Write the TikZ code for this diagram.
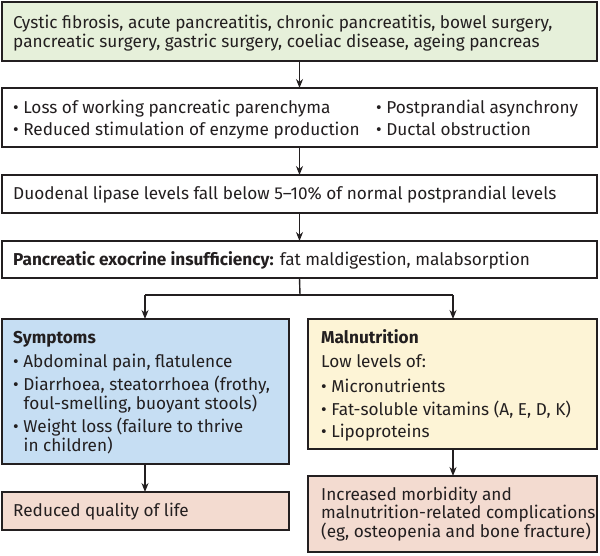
\documentclass[tikz,border=0pt]{standalone}
\usepackage{fontspec}
\setmainfont{Fira Sans}
\usetikzlibrary{arrows.meta}
\definecolor{bordc}{HTML}{231F20}
\definecolor{greenf}{HTML}{E6F0DA}
\definecolor{bluef}{HTML}{C6DEF3}
\definecolor{yellowf}{HTML}{FDF4D6}
\definecolor{pinkf}{HTML}{F3DBD0}
\tikzset{
  x=1pt,y=-1pt,
  boxstyle/.style={draw=bordc,line width=2pt,inner sep=0pt,anchor=north west,outer sep=0pt},
  txt/.style={anchor=base west,inner sep=0pt,font=\fontsize{17.2}{20}\selectfont,text=bordc},
  conn/.style={draw=bordc,line width=1.4pt,-{Stealth[length=9pt,width=7pt]}},
  plain/.style={draw=bordc,line width=1.4pt}
}
\begin{document}
\begin{tikzpicture}
\useasboundingbox (0,0) rectangle (600,555);
% boxes
\node[boxstyle,fill=greenf,minimum width=595pt,minimum height=59pt] (b1) at (2,2) {};
\node[boxstyle,fill=white,minimum width=595pt,minimum height=59pt] (b2) at (2,88) {};
\node[boxstyle,fill=white,minimum width=595pt,minimum height=38pt] (b3) at (2,175) {};
\node[boxstyle,fill=white,minimum width=595pt,minimum height=37pt] (b4) at (2,241) {};
\node[boxstyle,fill=bluef,minimum width=287pt,minimum height=145pt] (b5) at (2,319) {};
\node[boxstyle,fill=yellowf,minimum width=289pt,minimum height=130pt] (b6) at (308,319) {};
\node[boxstyle,fill=pinkf,minimum width=287pt,minimum height=38pt] (b7) at (2,492) {};
\node[boxstyle,fill=pinkf,minimum width=289pt,minimum height=76pt] (b8) at (308,476) {};
% texts
\node[txt] (t1a) at (13,28) {Cystic fibrosis, acute pancreatitis, chronic pancreatitis, bowel surgery,};
\node[txt] (t1b) at (13,47) {pancreatic surgery, gastric surgery, coeliac disease, ageing pancreas};
\node[txt] (t2a) at (13,113) {\textbullet\ Loss of working pancreatic parenchyma};
\node[txt] (t2b) at (13,135) {\textbullet\ Reduced stimulation of enzyme production};
\node[txt] (t2c) at (376,113) {\textbullet\ Postprandial asynchrony};
\node[txt] (t2d) at (376,135) {\textbullet\ Ductal obstruction};
\node[txt] (t3) at (13,199) {Duodenal lipase levels fall below 5--10\% of normal postprandial levels};
\node[txt] (t4) at (13,265) {\textbf{Pancreatic exocrine insufficiency:} fat maldigestion, malabsorption};
\node[txt] (t5a) at (13,343) {\textbf{Symptoms}};
\node[txt] (t5b) at (13,367) {\textbullet\ Abdominal pain, flatulence};
\node[txt] (t5c) at (13,390) {\textbullet\ Diarrhoea, steatorrhoea (frothy,};
\node[txt] (t5d) at (23.5,409) {foul-smelling, buoyant stools)};
\node[txt] (t5e) at (13,432) {\textbullet\ Weight loss (failure to thrive};
\node[txt] (t5f) at (23.5,451) {in children)};
\node[txt] (t6a) at (321,343) {\textbf{Malnutrition}};
\node[txt] (t6b) at (321,367) {Low levels of:};
\node[txt] (t6c) at (321,392) {\textbullet\ Micronutrients};
\node[txt] (t6d) at (321,415) {\textbullet\ Fat-soluble vitamins (A, E, D, K)};
\node[txt] (t6e) at (321,437) {\textbullet\ Lipoproteins};
\node[txt] (t7) at (13,516) {Reduced quality of life};
\node[txt] (t8a) at (321,500) {Increased morbidity and};
\node[txt] (t8b) at (321,518) {malnutrition-related complications};
\node[txt] (t8c) at (321,537) {(eg, osteopenia and bone fracture)};
% connectors
\coordinate (jl) at (145,295);
\coordinate (jr) at (453,295);
\coordinate (jm) at (300,295);
\draw[conn] (b1.south) -- (b2.north);
\draw[conn] (b2.south) -- (b3.north);
\draw[conn] (b3.south) -- (b4.north);
\draw[plain] (b4.south) -- (jm);
\draw[plain] (jl) -- (jr);
\draw[conn] (jl) -- (jl |- b5.north);
\draw[conn] (jr) -- (jr |- b6.north);
\draw[conn] (jl |- b5.south) -- (jl |- b7.north);
\draw[conn] (jr |- b6.south) -- (jr |- b8.north);
\end{tikzpicture}
\end{document}
